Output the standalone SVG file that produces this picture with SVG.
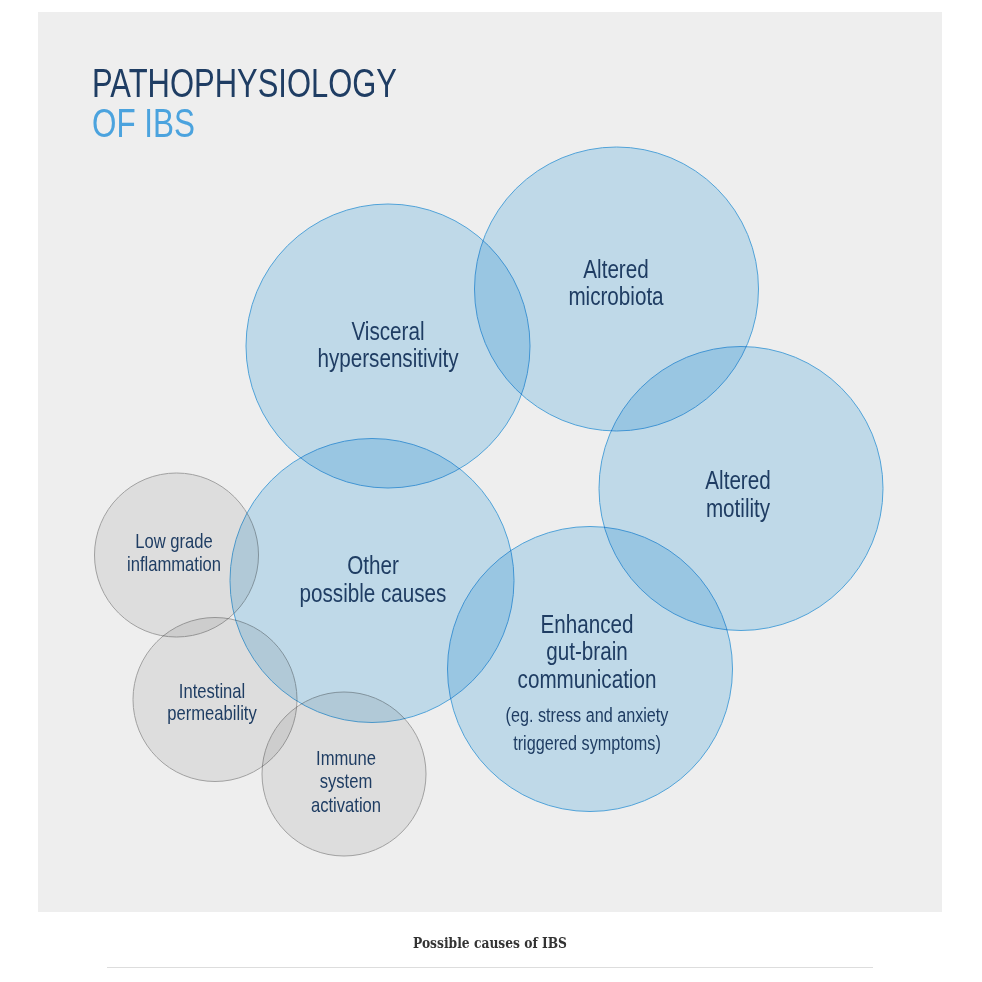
<svg xmlns="http://www.w3.org/2000/svg" width="982" height="982" viewBox="0 0 982 982">
<style>
.blue{fill:#cde9f9;stroke:#56aee8;stroke-width:1;mix-blend-mode:multiply}
.gray{fill:#ededed;stroke:#acacac;stroke-width:1;mix-blend-mode:multiply}
.lbl{font-family:"Liberation Sans",Arial,sans-serif;fill:#1f3d63;text-anchor:middle}
.big{font-size:25.5px}
.mid{font-size:20.5px}
.sub{font-size:20px}
.title{font-family:"Liberation Sans",Arial,sans-serif;font-size:40px}
</style>
<rect x="0" y="0" width="982" height="982" fill="#ffffff"/>
<rect x="38" y="12" width="904" height="900" fill="#eeeeee"/>
<g id="title">
<text class="title" x="92" y="97" fill="#1f3d63" textLength="305" lengthAdjust="spacingAndGlyphs">PATHOPHYSIOLOGY</text>
<text class="title" x="92" y="137" fill="#4ba3de" textLength="103" lengthAdjust="spacingAndGlyphs">OF IBS</text>
</g>
<g id="visceral">
<circle class="blue" cx="388" cy="346" r="142"/>
<g transform="translate(388 0) scale(0.81 1)">
<text class="lbl big" x="0" y="340">Visceral</text>
<text class="lbl big" x="0" y="367">hypersensitivity</text>
</g>
</g>
<g id="microbiota">
<circle class="blue" cx="616.5" cy="289" r="142"/>
<g transform="translate(616 0) scale(0.81 1)">
<text class="lbl big" x="0" y="278">Altered</text>
<text class="lbl big" x="0" y="305">microbiota</text>
</g>
</g>
<g id="motility">
<circle class="blue" cx="741" cy="488.5" r="142"/>
<g transform="translate(738 0) scale(0.81 1)">
<text class="lbl big" x="0" y="489">Altered</text>
<text class="lbl big" x="0" y="517">motility</text>
</g>
</g>
<g id="other">
<circle class="blue" cx="372" cy="580.5" r="142"/>
<g transform="translate(373 0) scale(0.81 1)">
<text class="lbl big" x="0" y="574">Other</text>
<text class="lbl big" x="0" y="602">possible causes</text>
</g>
</g>
<g id="gutbrain">
<circle class="blue" cx="590" cy="669" r="142.5"/>
<g transform="translate(587 0) scale(0.81 1)">
<text class="lbl big" x="0" y="633">Enhanced</text>
<text class="lbl big" x="0" y="660">gut-brain</text>
<text class="lbl big" x="0" y="688">communication</text>
<text class="lbl sub" x="0" y="722">(eg. stress and anxiety</text>
<text class="lbl sub" x="0" y="750">triggered symptoms)</text>
</g>
</g>
<g id="inflammation">
<circle class="gray" cx="176.5" cy="555" r="82"/>
<g transform="translate(174 0) scale(0.81 1)">
<text class="lbl mid" x="0" y="548">Low grade</text>
<text class="lbl mid" x="0" y="571">inflammation</text>
</g>
</g>
<g id="permeability">
<circle class="gray" cx="215" cy="699.5" r="82"/>
<g transform="translate(212 0) scale(0.81 1)">
<text class="lbl mid" x="0" y="698">Intestinal</text>
<text class="lbl mid" x="0" y="720">permeability</text>
</g>
</g>
<g id="immune">
<circle class="gray" cx="344" cy="774" r="82"/>
<g transform="translate(346 0) scale(0.81 1)">
<text class="lbl mid" x="0" y="765">Immune</text>
<text class="lbl mid" x="0" y="788">system</text>
<text class="lbl mid" x="0" y="812">activation</text>
</g>
</g>
<g id="caption">
<text x="413" y="948" font-family="'DejaVu Serif','Liberation Serif',serif" font-weight="bold" font-size="14" fill="#333333" textLength="154" lengthAdjust="spacingAndGlyphs">Possible causes of IBS</text>
<line x1="107" y1="967.5" x2="873" y2="967.5" stroke="#dddddd" stroke-width="1"/>
</g>
</svg>
